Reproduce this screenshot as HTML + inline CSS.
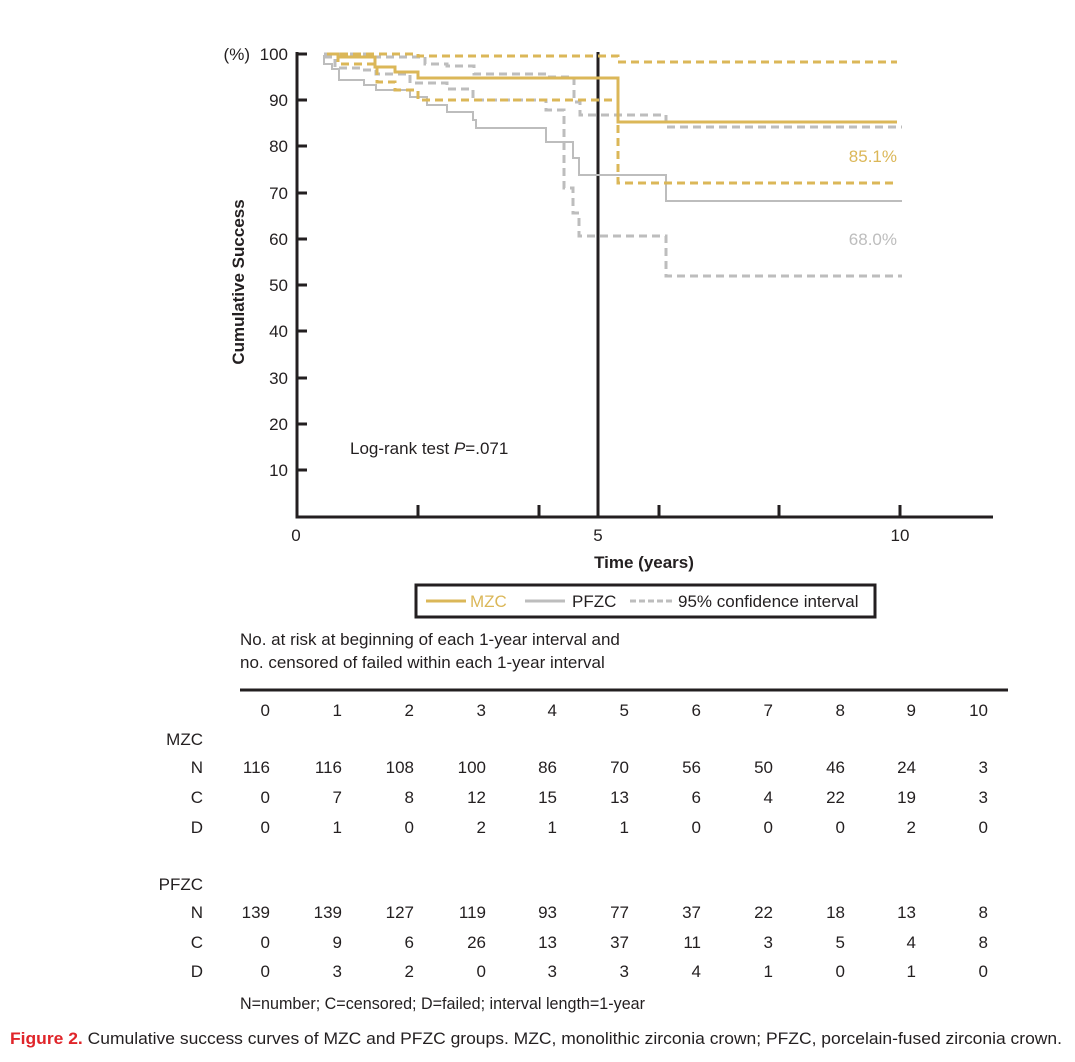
<!DOCTYPE html>
<html><head><meta charset="utf-8"><style>
body{margin:0;background:#fff}
svg{display:block}
text{font-family:"Liberation Sans",Arial,sans-serif;fill:#231f20}
</style></head><body>
<svg width="1075" height="1062" viewBox="0 0 1075 1062" xmlns="http://www.w3.org/2000/svg">
<g font-size="17" text-anchor="end">
<text x="250" y="60">(%)</text>
<text x="288" y="60">100</text><text x="288" y="106">90</text><text x="288" y="152">80</text><text x="288" y="199">70</text><text x="288" y="245">60</text><text x="288" y="291">50</text><text x="288" y="337">40</text><text x="288" y="384">30</text><text x="288" y="430">20</text><text x="288" y="476">10</text>
</g>
<text x="0" y="0" font-size="17" font-weight="bold" text-anchor="middle" transform="translate(244,282) rotate(-90)">Cumulative Success</text>
<g stroke="#231f20" stroke-width="3" fill="none">
<path d="M297,52 V517 H993"/>
<path d="M297,54h10M297,100h10M297,146h10M297,193h10M297,239h10M297,285h10M297,331h10M297,378h10M297,424h10M297,470h10"/>
<path d="M418,517v-12M539,517v-12M659,517v-12M779,517v-12M900,517v-12"/>
<path d="M598,52V517"/>
</g>
<g font-size="17" text-anchor="middle">
<text x="296" y="541">0</text><text x="598" y="541">5</text><text x="900" y="541">10</text>
<text x="644" y="568" font-weight="bold">Time (years)</text>
</g>
<text x="350" y="454" font-size="17">Log-rank test <tspan font-style="italic">P</tspan>=.071</text>
<g fill="none" stroke="#bdbdbd" stroke-width="2">
<path d="M324,55V64H332V69H339V80H364V85H376V90H410V97H427V105H447V112H473V120H476V128H546V142H573V158H579V175H666V201H902"/>
</g>
<g fill="none" stroke="#bdbdbd" stroke-width="3" stroke-dasharray="8,5">
<path d="M324,54H373V57H425V64H447V66H474V74H547V77H574V102H580V115H666V127H902"/>
<path d="M324,57H335V68H360V70H376V74H410V83H447V89H473V100H546V110H564V188H573V213H579V236H666V276H902"/>
</g>
<g fill="none" stroke="#dbb758" stroke-width="3">
<path d="M327,54H338V57H375V67H395V72H418V78H618V122H897"/>
</g>
<g fill="none" stroke="#dbb758" stroke-width="3" stroke-dasharray="8,5">
<path d="M327,54H418V56H618V62H897"/>
<path d="M338,54V64H377V82H395V90H418V100H618V183H893"/>
</g>
<text x="897" y="162" font-size="17" text-anchor="end" style="fill:#dbb758">85.1%</text>
<text x="897" y="245" font-size="17" text-anchor="end" style="fill:#bdbdbd">68.0%</text>
<rect x="416" y="585" width="459" height="32" fill="none" stroke="#231f20" stroke-width="3"/>
<path d="M426,601h40" stroke="#dbb758" stroke-width="3"/>
<text x="470" y="607" font-size="17" style="fill:#dbb758">MZC</text>
<path d="M525,601h40" stroke="#bdbdbd" stroke-width="3"/>
<text x="572" y="607" font-size="17">PFZC</text>
<path d="M630,601h42" stroke="#bdbdbd" stroke-width="3" stroke-dasharray="6,3"/>
<text x="678" y="607" font-size="17">95% confidence interval</text>
<text x="240" y="645" font-size="17">No. at risk at beginning of each 1-year interval and</text>
<text x="240" y="668" font-size="17">no. censored of failed within each 1-year interval</text>
<path d="M240,690H1008" stroke="#231f20" stroke-width="3"/>
<g font-size="17" text-anchor="end">
<text x="270" y="716">0</text><text x="342" y="716">1</text><text x="414" y="716">2</text><text x="486" y="716">3</text><text x="557" y="716">4</text><text x="629" y="716">5</text><text x="701" y="716">6</text><text x="773" y="716">7</text><text x="845" y="716">8</text><text x="916" y="716">9</text><text x="988" y="716">10</text>
<text x="203" y="745">MZC</text>
<text x="203" y="773">N</text><text x="203" y="803">C</text><text x="203" y="833">D</text>
<text x="270" y="773">116</text><text x="342" y="773">116</text><text x="414" y="773">108</text><text x="486" y="773">100</text><text x="557" y="773">86</text><text x="629" y="773">70</text><text x="701" y="773">56</text><text x="773" y="773">50</text><text x="845" y="773">46</text><text x="916" y="773">24</text><text x="988" y="773">3</text>
<text x="270" y="803">0</text><text x="342" y="803">7</text><text x="414" y="803">8</text><text x="486" y="803">12</text><text x="557" y="803">15</text><text x="629" y="803">13</text><text x="701" y="803">6</text><text x="773" y="803">4</text><text x="845" y="803">22</text><text x="916" y="803">19</text><text x="988" y="803">3</text>
<text x="270" y="833">0</text><text x="342" y="833">1</text><text x="414" y="833">0</text><text x="486" y="833">2</text><text x="557" y="833">1</text><text x="629" y="833">1</text><text x="701" y="833">0</text><text x="773" y="833">0</text><text x="845" y="833">0</text><text x="916" y="833">2</text><text x="988" y="833">0</text>
<text x="203" y="890">PFZC</text>
<text x="203" y="918">N</text><text x="203" y="948">C</text><text x="203" y="977">D</text>
<text x="270" y="918">139</text><text x="342" y="918">139</text><text x="414" y="918">127</text><text x="486" y="918">119</text><text x="557" y="918">93</text><text x="629" y="918">77</text><text x="701" y="918">37</text><text x="773" y="918">22</text><text x="845" y="918">18</text><text x="916" y="918">13</text><text x="988" y="918">8</text>
<text x="270" y="948">0</text><text x="342" y="948">9</text><text x="414" y="948">6</text><text x="486" y="948">26</text><text x="557" y="948">13</text><text x="629" y="948">37</text><text x="701" y="948">11</text><text x="773" y="948">3</text><text x="845" y="948">5</text><text x="916" y="948">4</text><text x="988" y="948">8</text>
<text x="270" y="977">0</text><text x="342" y="977">3</text><text x="414" y="977">2</text><text x="486" y="977">0</text><text x="557" y="977">3</text><text x="629" y="977">3</text><text x="701" y="977">4</text><text x="773" y="977">1</text><text x="845" y="977">0</text><text x="916" y="977">1</text><text x="988" y="977">0</text>
</g>
<text x="240" y="1009" font-size="17" textLength="405" lengthAdjust="spacingAndGlyphs">N=number; C=censored; D=failed; interval length=1-year</text>
<text x="10" y="1044" font-size="17" textLength="1052" lengthAdjust="spacingAndGlyphs"><tspan style="fill:#e0252a" font-weight="bold">Figure 2.</tspan> Cumulative success curves of MZC and PFZC groups. MZC, monolithic zirconia crown; PFZC, porcelain-fused zirconia crown.</text>
</svg>
</body></html>
